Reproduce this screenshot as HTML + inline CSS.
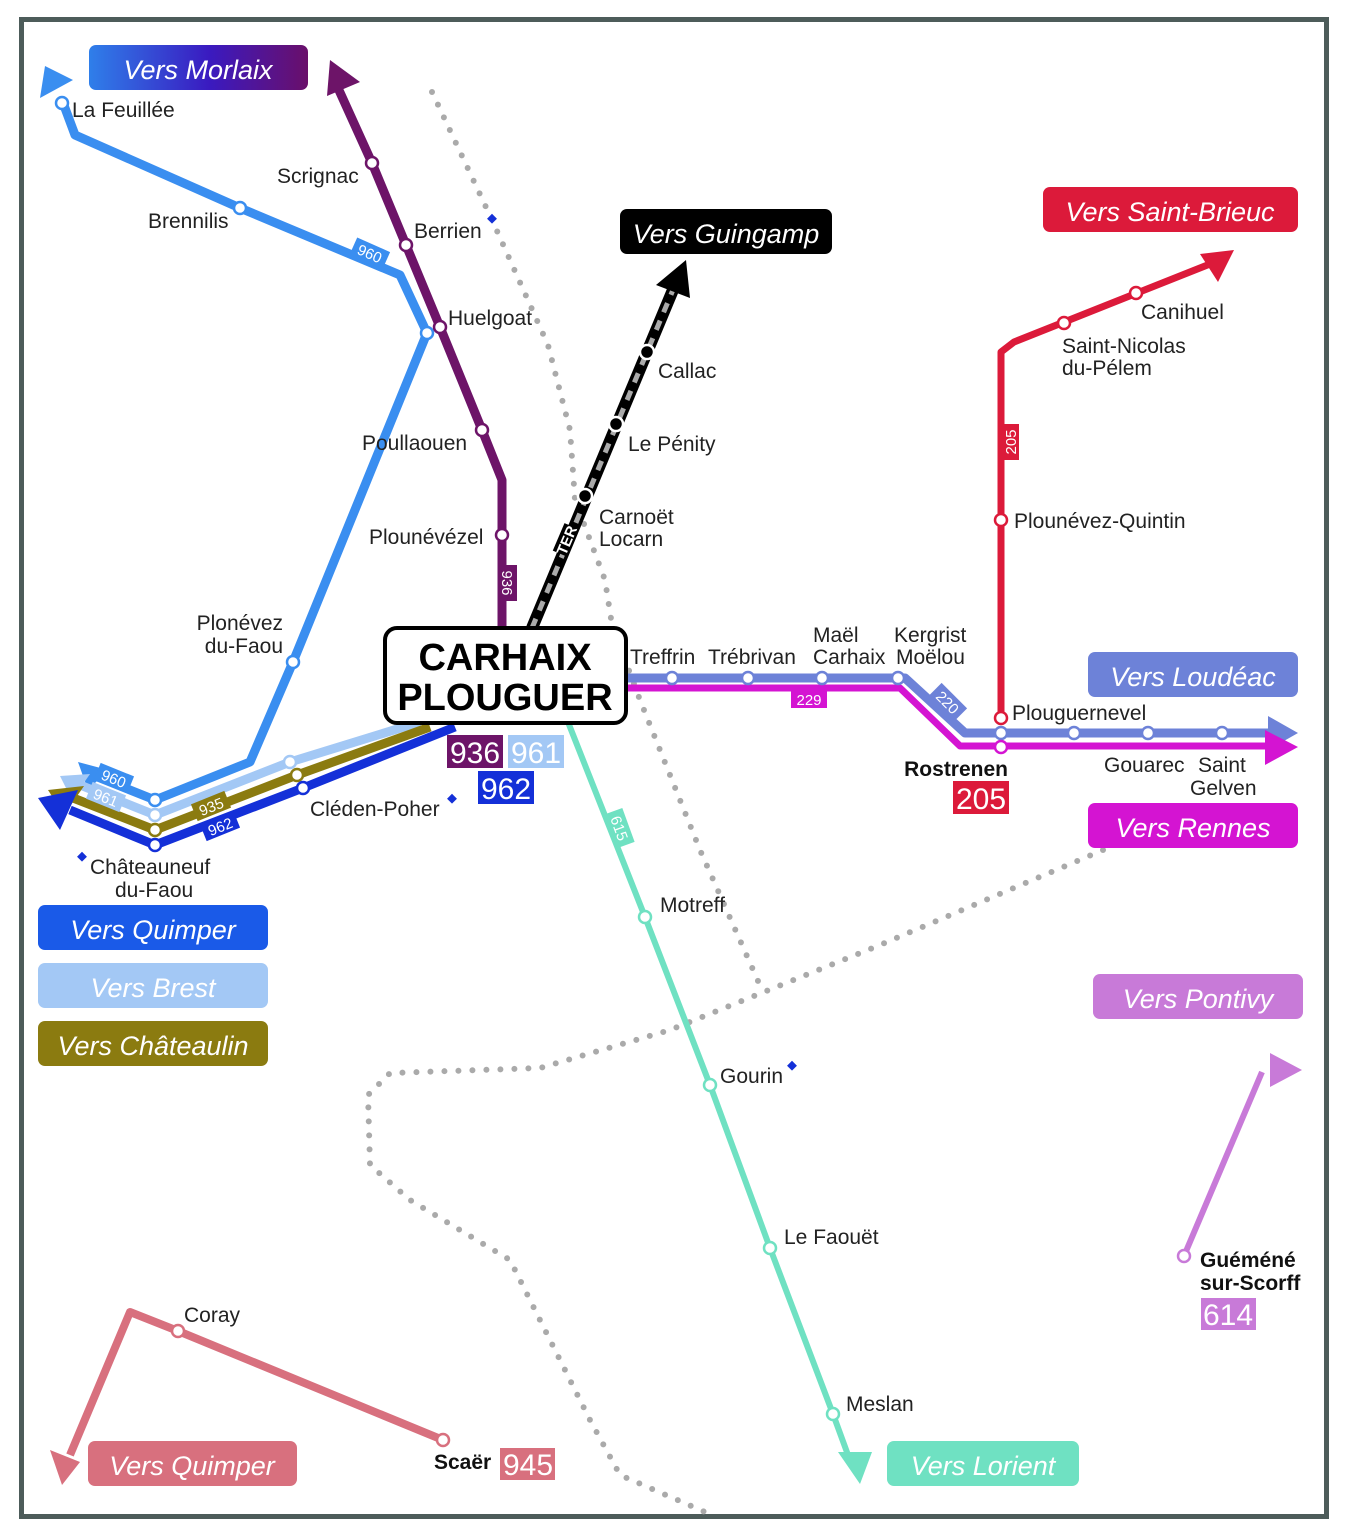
<!DOCTYPE html>
<html><head><meta charset="utf-8"><style>
html,body{margin:0;padding:0;background:#fff;}
svg{display:block;font-family:"Liberation Sans","DejaVu Sans",sans-serif;}
.st{fill:#fff;stroke-width:2.5;}
.lbl{font-size:21px;fill:#222;}
.box{font-size:27px;font-style:italic;fill:#fff;}
.dot{fill:none;stroke:#aaa;stroke-width:6;stroke-linecap:round;stroke-dasharray:0 14;}
</style></head><body>
<svg width="1348" height="1536" viewBox="0 0 1348 1536" xmlns="http://www.w3.org/2000/svg">
<defs>
<linearGradient id="gm" x1="0" x2="1"><stop offset="0" stop-color="#2f7fea"/><stop offset="0.55" stop-color="#3a1ac0"/><stop offset="1" stop-color="#6a0f6a"/></linearGradient>
</defs>
<rect x="21.5" y="19.5" width="1305" height="1497" fill="#fff" stroke="#4d5c5a" stroke-width="5"/>

<!-- dotted borders -->
<path class="dot" d="M432,92 L493,222 L548,345 L570,430 L575,500 L605,580 L612,625 L640,700 L700,850 L762,990"/>
<path class="dot" d="M1103,850 L880,945 L670,1030 L540,1068 L390,1073 L368,1095 L370,1165 L410,1200 L510,1260 L545,1330 L590,1420 L620,1475 L705,1512"/>

<!-- 960 -->
<path d="M62,100 L75,135 L240,208 L400,275 L427,333 L293,662 L250,762 L155,800 L95,776" fill="none" stroke="#3a8ef0" stroke-width="9" stroke-linejoin="round"/>
<polygon points="45,66 40,98 73,80" fill="#3a8ef0"/>
<polygon points="78,762 108,770 88,790" fill="#3a8ef0"/>
<!-- 936 -->
<path d="M338,88 L372,163 L406,245 L440,327 L482,430 L502,480 L502,628" fill="none" stroke="#6d1468" stroke-width="9" stroke-linejoin="round"/>
<polygon points="330,60 327,96 360,82" fill="#6d1468"/>
<!-- bundle -->
<path d="M420,722 L290,762 L155,815 L80,785" fill="none" stroke="#a3c8f5" stroke-width="9" stroke-linejoin="round"/>
<polygon points="60,776 90,774 72,800" fill="#a3c8f5"/>
<path d="M430,727 L297,775 L155,830 L68,796" fill="none" stroke="#8b7b10" stroke-width="9" stroke-linejoin="round"/>
<polygon points="48,790 84,786 64,815" fill="#8b7b10"/>
<path d="M455,727 L303,788 L155,845 L70,810" fill="none" stroke="#1430d8" stroke-width="9" stroke-linejoin="round"/>
<polygon points="38,798 78,790 60,830" fill="#1430d8"/>
<!-- 615 -->
<path d="M568,722 L645,917 L710,1085 L770,1248 L833,1414 L848,1455" fill="none" stroke="#6fe1c2" stroke-width="6"/>
<polygon points="838,1452 872,1452 860,1484" fill="#6fe1c2"/>
<!-- 220 -->
<path d="M625,678 L905,678 L965,733 L1275,733" fill="none" stroke="#6d82d8" stroke-width="9" stroke-linejoin="round"/>
<polygon points="1268,716 1298,733 1268,750" fill="#6d82d8"/>
<!-- 229 -->
<path d="M625,688 L900,688 L960,746 L1275,746" fill="none" stroke="#d414d2" stroke-width="7" stroke-linejoin="round"/>
<polygon points="1265,730 1298,747 1265,765" fill="#d414d2"/>
<!-- 205 -->
<path d="M1001,718 L1001,352 L1014,342 L1210,264" fill="none" stroke="#dc1a3a" stroke-width="7" stroke-linejoin="round"/>
<polygon points="1200,254 1234,250 1218,282" fill="#dc1a3a"/>
<!-- 614 -->
<path d="M1184,1256 L1262,1072" fill="none" stroke="#c87ad8" stroke-width="6"/>
<polygon points="1270,1053 1302,1070 1270,1087" fill="#c87ad8"/>
<!-- 945 -->
<path d="M443,1440 L178,1331 L130,1312 L70,1455" fill="none" stroke="#d8707e" stroke-width="8" stroke-linejoin="round"/>
<polygon points="50,1450 80,1462 62,1485" fill="#d8707e"/>
<!-- TER -->
<path d="M532,628 L675,285" fill="none" stroke="#000" stroke-width="12"/>
<path d="M532,628 L675,285" fill="none" stroke="#aaa" stroke-width="5" stroke-dasharray="10 9"/>
<polygon points="686,260 656,285 690,298" fill="#000"/>
<rect x="-15" y="-8" width="30" height="16" fill="#000" transform="translate(566,540) rotate(-67)"/>
<text x="566" y="546" transform="rotate(-67 566 540)" text-anchor="middle" font-size="15" font-weight="bold" fill="#fff">TER</text>
<g stroke="#fff" stroke-width="2.5" fill="#000"><circle cx="647" cy="352" r="7"/><circle cx="616" cy="424" r="7"/><circle cx="585" cy="496" r="7"/></g>

<!-- stations -->
<g class="st" stroke="#3a8ef0"><circle cx="62" cy="103" r="6"/><circle cx="240" cy="208" r="6"/><circle cx="427" cy="333" r="6"/><circle cx="293" cy="662" r="6"/><circle cx="155" cy="800" r="6"/></g>
<g class="st" stroke="#6d1468"><circle cx="372" cy="163" r="6"/><circle cx="406" cy="245" r="6"/><circle cx="440" cy="327" r="6"/><circle cx="482" cy="430" r="6"/><circle cx="502" cy="535" r="6"/></g>
<g class="st" stroke="#a3c8f5"><circle cx="155" cy="815" r="6"/><circle cx="290" cy="762" r="6"/></g>
<g class="st" stroke="#8b7b10"><circle cx="155" cy="830" r="6"/><circle cx="297" cy="775" r="6"/></g>
<g class="st" stroke="#1430d8"><circle cx="155" cy="845" r="6"/><circle cx="303" cy="788" r="6"/></g>
<g class="st" stroke="#6fe1c2"><circle cx="645" cy="917" r="6"/><circle cx="710" cy="1085" r="6"/><circle cx="770" cy="1248" r="6"/><circle cx="833" cy="1414" r="6"/></g>
<g class="st" stroke="#6d82d8"><circle cx="672" cy="678" r="6"/><circle cx="748" cy="678" r="6"/><circle cx="822" cy="678" r="6"/><circle cx="898" cy="678" r="6"/><circle cx="1001" cy="733" r="6"/><circle cx="1074" cy="733" r="6"/><circle cx="1148" cy="733" r="6"/><circle cx="1222" cy="733" r="6"/></g>
<g class="st" stroke="#d414d2"><circle cx="1001" cy="747" r="6"/></g>
<g class="st" stroke="#dc1a3a"><circle cx="1001" cy="718" r="6"/><circle cx="1001" cy="520" r="6"/><circle cx="1064" cy="323" r="6"/><circle cx="1136" cy="293" r="6"/></g>
<g class="st" stroke="#c87ad8"><circle cx="1184" cy="1256" r="6"/></g>
<g class="st" stroke="#d8707e"><circle cx="178" cy="1331" r="6"/><circle cx="443" cy="1440" r="6"/></g>

<!-- line tags -->
<g font-size="15" fill="#fff" text-anchor="middle">
<g transform="translate(370,253) rotate(24)"><rect x="-18" y="-9" width="36" height="18" fill="#3a8ef0"/><text y="6">960</text></g>
<g transform="translate(508,583) rotate(90)"><rect x="-18" y="-9" width="36" height="18" fill="#6d1468"/><text y="6">936</text></g>
<g transform="translate(620,828) rotate(70)"><rect x="-18" y="-9" width="36" height="18" fill="#6fe1c2"/><text y="6">615</text></g>
<g transform="translate(1010,442) rotate(-90)"><rect x="-18" y="-9" width="36" height="18" fill="#dc1a3a"/><text y="6">205</text></g>
<g transform="translate(948,702) rotate(45)"><rect x="-18" y="-9" width="36" height="18" fill="#6d82d8"/><text y="6">220</text></g>
<g transform="translate(809,699)"><rect x="-18" y="-9" width="36" height="18" fill="#d414d2"/><text y="6">229</text></g>
<g transform="translate(114,778) rotate(22)"><rect x="-18" y="-9" width="36" height="18" fill="#3a8ef0"/><text y="6">960</text></g>
<g transform="translate(106,797) rotate(22)"><rect x="-18" y="-9" width="36" height="18" fill="#a3c8f5"/><text y="6">961</text></g>
<g transform="translate(211,806) rotate(-22)"><rect x="-18" y="-9" width="36" height="18" fill="#8b7b10"/><text y="6">935</text></g>
<g transform="translate(220,826) rotate(-22)"><rect x="-18" y="-9" width="36" height="18" fill="#1430d8"/><text y="6">962</text></g>
</g>

<!-- Carhaix -->
<rect x="385" y="628" width="241" height="95" rx="12" fill="#fff" stroke="#000" stroke-width="4"/>
<text x="505" y="670" text-anchor="middle" font-size="38" font-weight="bold">CARHAIX</text>
<text x="505" y="710" text-anchor="middle" font-size="38" font-weight="bold">PLOUGUER</text>
<g font-size="30" fill="#fff" text-anchor="middle">
<rect x="447" y="735" width="56" height="33" fill="#6d1468"/><text x="475" y="763">936</text>
<rect x="508" y="735" width="56" height="33" fill="#a3c8f5"/><text x="536" y="763">961</text>
<rect x="478" y="771" width="56" height="33" fill="#1430d8"/><text x="506" y="799">962</text>
<rect x="953" y="781" width="56" height="33" fill="#dc1a3a"/><text x="981" y="809">205</text>
<rect x="1201" y="1298" width="55" height="32" fill="#c87ad8"/><text x="1228" y="1325">614</text>
<rect x="500" y="1448" width="55" height="32" fill="#d8707e"/><text x="528" y="1475">945</text>
</g>

<!-- direction boxes -->
<rect x="89" y="45" width="219" height="45" rx="7" fill="url(#gm)"/><text class="box" x="198" y="79" text-anchor="middle">Vers Morlaix</text>
<rect x="620" y="209" width="212" height="45" rx="7" fill="#000"/><text class="box" x="726" y="243" text-anchor="middle">Vers Guingamp</text>
<rect x="1043" y="187" width="255" height="45" rx="7" fill="#dc1a3a"/><text class="box" x="1170" y="221" text-anchor="middle">Vers Saint-Brieuc</text>
<rect x="1088" y="652" width="210" height="45" rx="7" fill="#6d82d8"/><text class="box" x="1193" y="686" text-anchor="middle">Vers Loudéac</text>
<rect x="1088" y="803" width="210" height="45" rx="7" fill="#d414d2"/><text class="box" x="1193" y="837" text-anchor="middle">Vers Rennes</text>
<rect x="1093" y="974" width="210" height="45" rx="7" fill="#c87ad8"/><text class="box" x="1198" y="1008" text-anchor="middle">Vers Pontivy</text>
<rect x="38" y="905" width="230" height="45" rx="7" fill="#1a5ae8"/><text class="box" x="153" y="939" text-anchor="middle">Vers Quimper</text>
<rect x="38" y="963" width="230" height="45" rx="7" fill="#a3c8f5"/><text class="box" x="153" y="997" text-anchor="middle">Vers Brest</text>
<rect x="38" y="1021" width="230" height="45" rx="7" fill="#8b7b10"/><text class="box" x="153" y="1055" text-anchor="middle">Vers Châteaulin</text>
<rect x="88" y="1441" width="209" height="45" rx="7" fill="#d8707e"/><text class="box" x="192" y="1475" text-anchor="middle">Vers Quimper</text>
<rect x="887" y="1441" width="192" height="45" rx="7" fill="#6fe1c2"/><text class="box" x="983" y="1475" text-anchor="middle">Vers Lorient</text>

<!-- labels -->
<g class="lbl">
<text x="72" y="117">La Feuillée</text>
<text x="148" y="228">Brennilis</text>
<text x="277" y="183">Scrignac</text>
<text x="414" y="238">Berrien</text>
<text x="448" y="325">Huelgoat</text>
<text x="362" y="450">Poullaouen</text>
<text x="369" y="544">Plounévézel</text>
<text x="283" y="630" text-anchor="end">Plonévez</text>
<text x="283" y="653" text-anchor="end">du-Faou</text>
<text x="310" y="816">Cléden-Poher</text>
<text x="90" y="874">Châteauneuf</text>
<text x="115" y="897">du-Faou</text>
<text x="658" y="378">Callac</text>
<text x="628" y="451">Le Pénity</text>
<text x="599" y="524">Carnoët</text>
<text x="599" y="546">Locarn</text>
<text x="630" y="664">Treffrin</text>
<text x="708" y="664">Trébrivan</text>
<text x="813" y="642">Maël</text>
<text x="813" y="664">Carhaix</text>
<text x="894" y="642">Kergrist</text>
<text x="896" y="664">Moëlou</text>
<text x="1012" y="720">Plouguernevel</text>
<text x="1104" y="772">Gouarec</text>
<text x="1198" y="772">Saint</text>
<text x="1190" y="795">Gelven</text>
<text x="1141" y="319">Canihuel</text>
<text x="1062" y="353">Saint-Nicolas</text>
<text x="1062" y="375">du-Pélem</text>
<text x="1014" y="528">Plounévez-Quintin</text>
<text x="660" y="912">Motreff</text>
<text x="720" y="1083">Gourin</text>
<text x="784" y="1244">Le Faouët</text>
<text x="846" y="1411">Meslan</text>
<text x="184" y="1322">Coray</text>
</g>
<g font-weight="bold" font-size="21" fill="#111">
<text x="1008" y="776" text-anchor="end">Rostrenen</text>
<text x="1200" y="1267">Guéméné</text>
<text x="1200" y="1290">sur-Scorff</text>
<text x="434" y="1469">Scaër</text>
</g>
<g fill="#1430d8">
<rect x="489" y="215" width="7" height="7" transform="rotate(45 492 218)"/>
<rect x="449" y="795" width="7" height="7" transform="rotate(45 452 798)"/>
<rect x="79" y="853" width="7" height="7" transform="rotate(45 82 856)"/>
<rect x="789" y="1062" width="7" height="7" transform="rotate(45 792 1065)"/>
</g>
</svg>
</body></html>
